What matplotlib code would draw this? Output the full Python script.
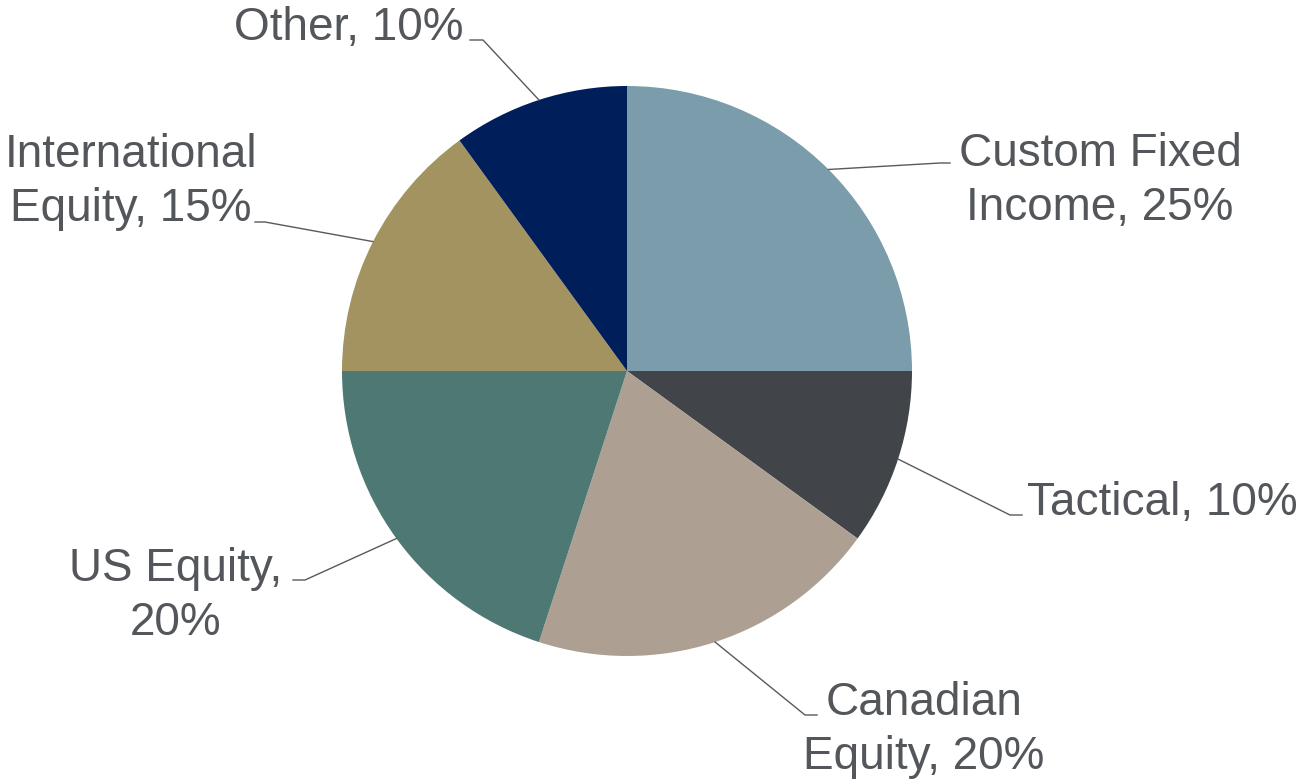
import matplotlib.pyplot as plt
import numpy as np

labels = ['Custom Fixed\nIncome, 25%', 'Tactical, 10%', 'Canadian\nEquity, 20%',
          'US Equity,\n20%', 'International\nEquity, 15%', 'Other, 10%']
values = [25, 10, 20, 20, 15, 10]
colors = ['#7A9CAB', '#41454A', '#ADA092', '#4E7874', '#A29360', '#001F5A']

# layout (figure pixels, y up): elbow of leader line, end of short tick, text anchor
elbows = [(940, 619), (1010, 267), (805, 67), (305, 202), (265, 560), (483, 742)]
ticks = [950, 1022, 817, 293, 255, 470]
text_pos = [(1100, 601), (1027, 279), (924, 52), (176, 186), (131, 600), (464, 754)]
text_ha = ['center', 'left', 'center', 'center', 'center', 'right']

W, H = 1310, 782
cx, cy, r = 627, 411, 285
txt_color = '#53565A'

fig = plt.figure(figsize=(W / 100, H / 100), dpi=100)
ax = fig.add_axes([0, 0, 1, 1])
wedges, _ = ax.pie(values, colors=colors, startangle=90, counterclock=False,
                   center=(cx, cy), radius=r, frame=False)
ax.set_xlim(0, W)
ax.set_ylim(0, H)
ax.set_aspect('equal')
ax.axis('off')

for w, lab, (ex, ey), tx, (px, py), ha in zip(wedges, labels, elbows, ticks, text_pos, text_ha):
    ang = np.deg2rad((w.theta1 + w.theta2) / 2)
    x0 = cx + r * np.cos(ang)
    y0 = cy + r * np.sin(ang)
    ax.plot([x0, ex, tx], [y0, ey, ey], color='#595959', lw=1.0)
    ax.text(px, py, lab, ha=ha, va='center', multialignment='center',
            fontsize=33, color=txt_color, family='Liberation Sans', linespacing=1.32)

plt.savefig('out.png', dpi=100)
